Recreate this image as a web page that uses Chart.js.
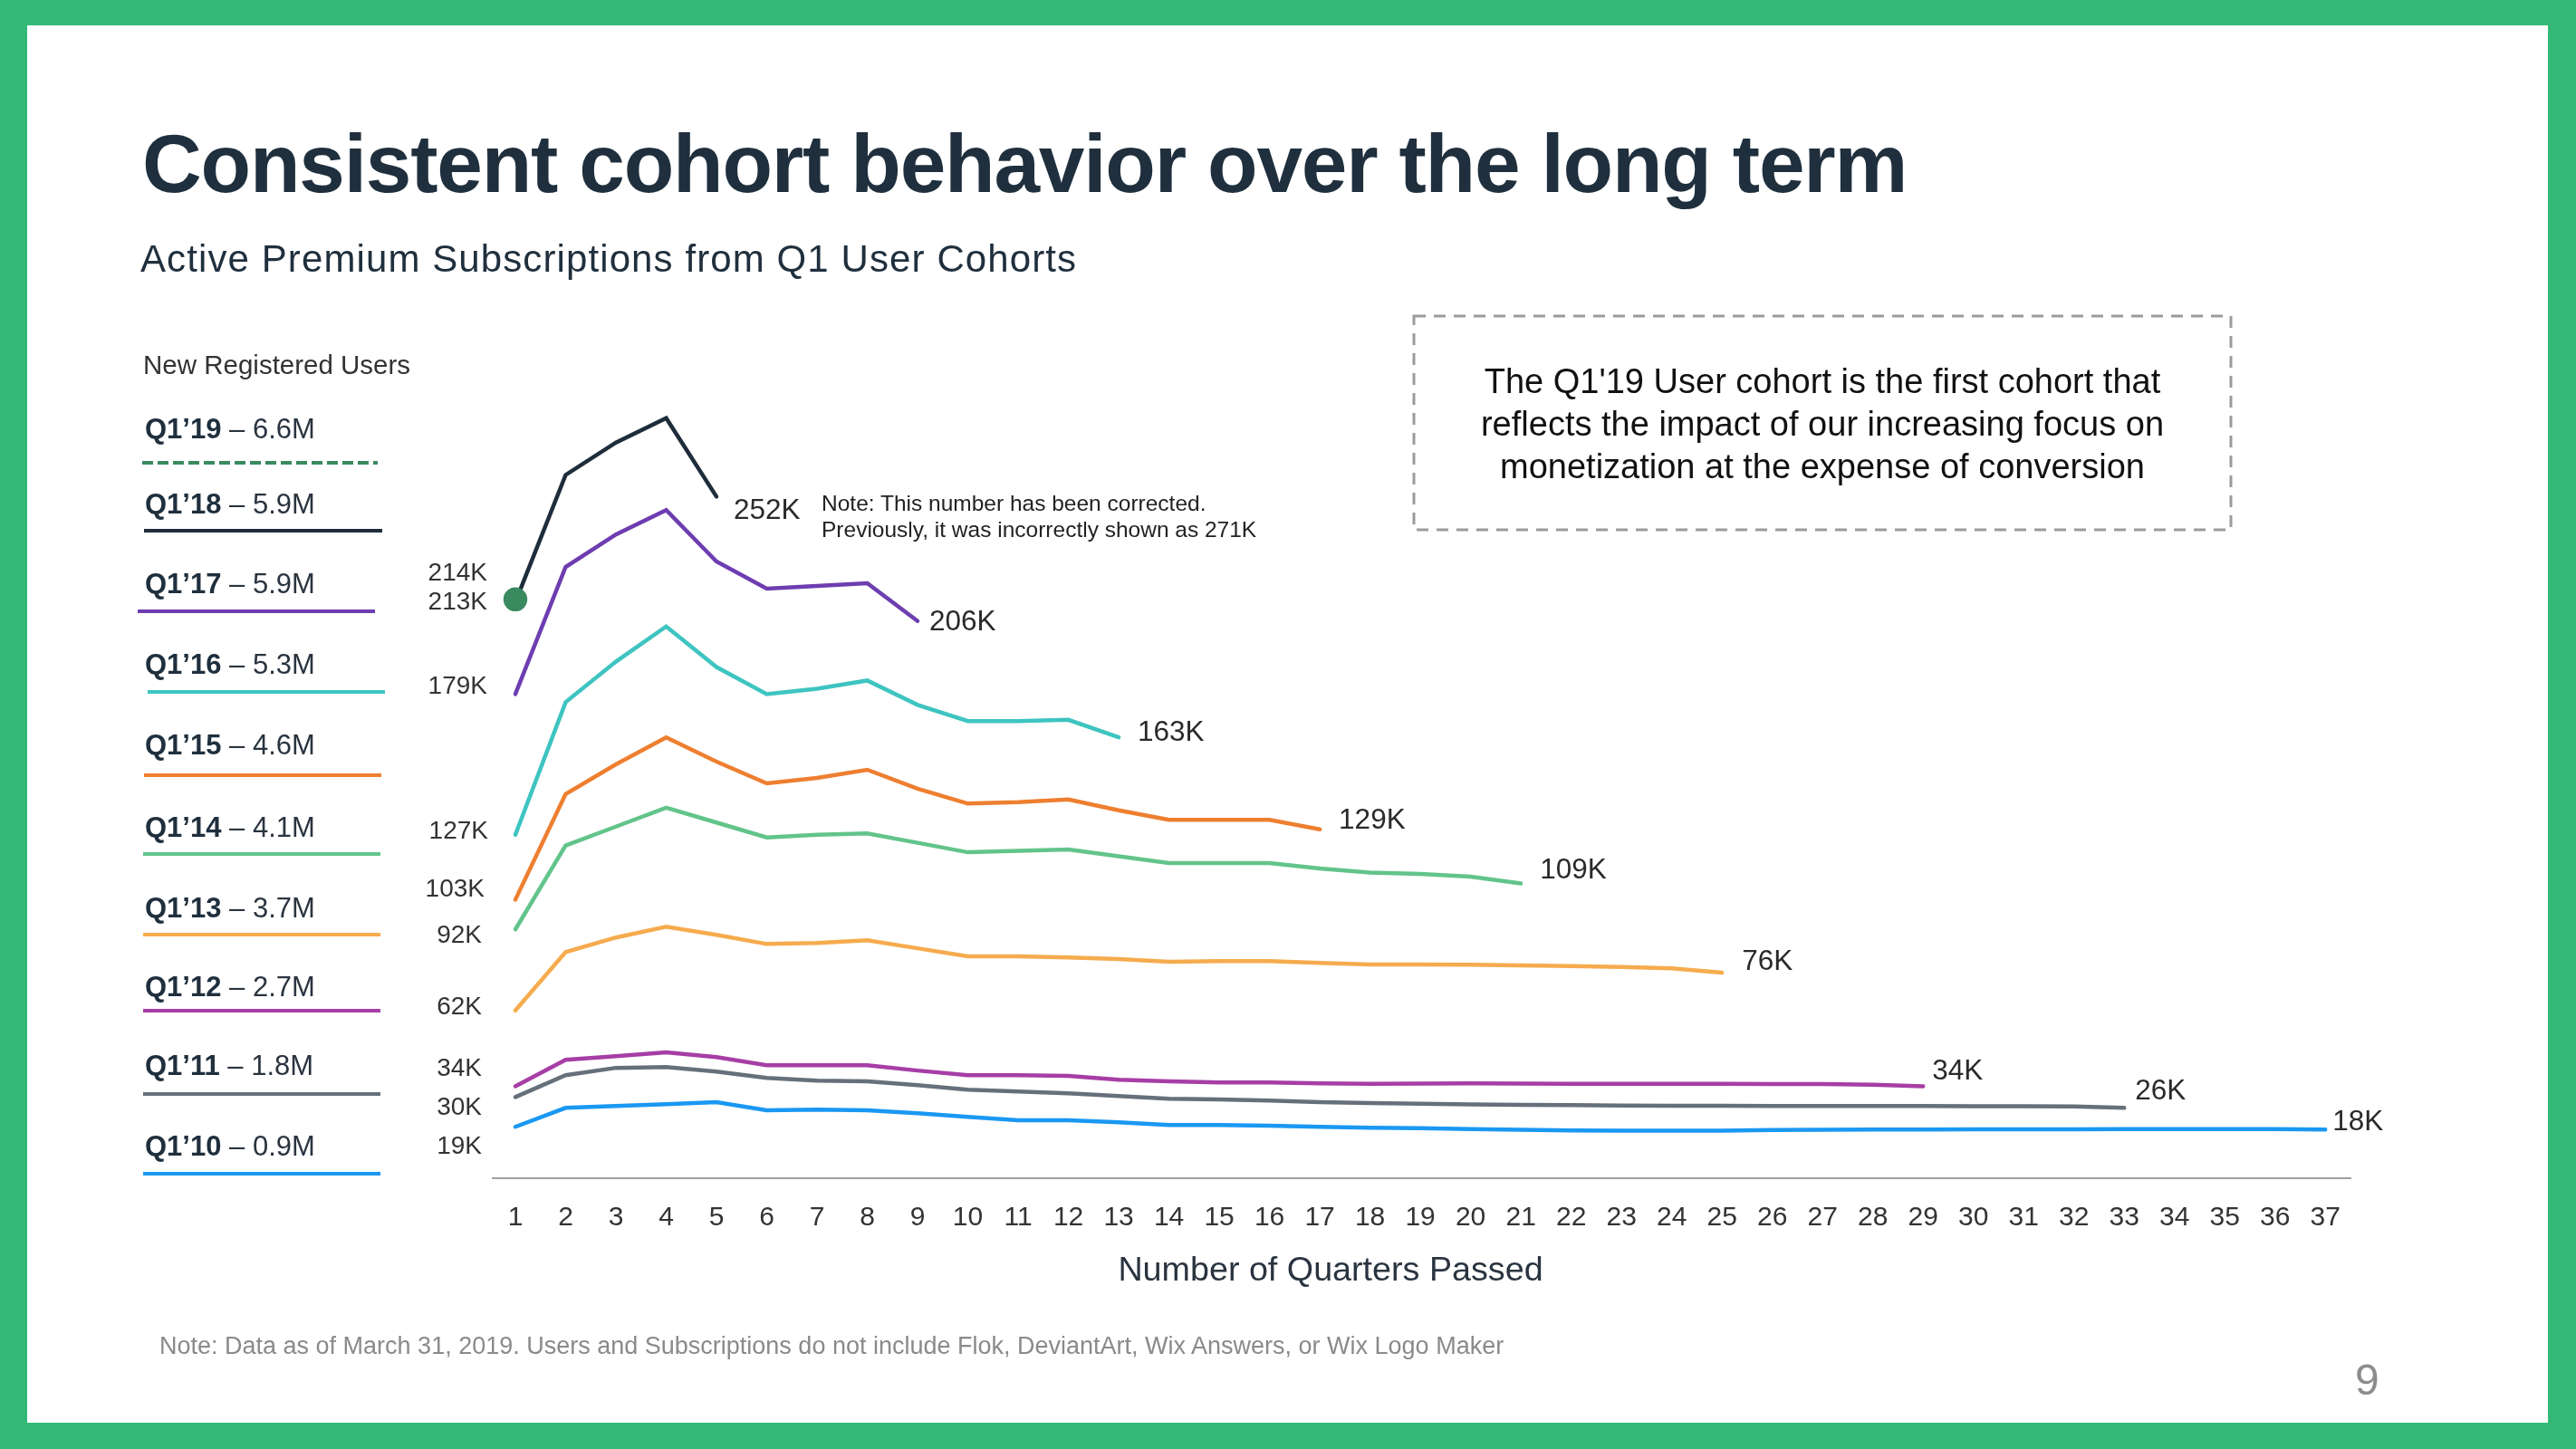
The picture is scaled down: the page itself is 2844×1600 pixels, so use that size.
<!DOCTYPE html>
<html>
<head>
<meta charset="utf-8">
<script src="https://cdn.jsdelivr.net/npm/chart.js@4.4.1/dist/chart.umd.min.js"></script>
<style>
  html, body { margin: 0; padding: 0; }
  body {
    width: 2844px; height: 1600px; position: relative; overflow: hidden;
    background: #33b876;
    font-family: "Liberation Sans", Arial, sans-serif;
  }
  #slide { position: absolute; left: 30px; top: 28px; width: 2783px; height: 1543px; background: #fff; }
  #chart { position: absolute; left: 0; top: 0; }
  .abs { position: absolute; white-space: nowrap; }
  #title { left: 157px; top: 135px; font-size: 91px; line-height: 91px; font-weight: bold; color: #1f2f3d; letter-spacing: -1.2px; }
  #subtitle { left: 155px; top: 265px; font-size: 42px; line-height: 42px; color: #1f2f3d; letter-spacing: 1.1px; }
  #legendHead { left: 158px; top: 388px; font-size: 29.5px; line-height: 29.5px; color: #333; }
  .legText { font-size: 31px; line-height: 31px; color: #2a3440; }
  .legText b { color: #1f2f3d; }
  .legLine { position: absolute; height: 4px; }
  .note { left: 907px; font-size: 24.5px; line-height: 24.5px; color: #222; }
  #callout { left: 1561px; top: 398px; width: 902px; text-align: center; font-size: 38px; line-height: 47px; color: #111; }
  #xTitle { left: 1469px; top: 1383px; transform: translateX(-50%); font-size: 37.7px; line-height: 37.7px; color: #2a3440; }
  #footer { left: 176px; top: 1473px; font-size: 27px; line-height: 27px; color: #8a8a8a; }
  #pageNo { left: 2600px; top: 1500px; font-size: 48px; line-height: 48px; color: #8c8c8c; }
</style>
</head>
<body>
<div id="slide"></div>
<canvas id="chart" width="2844" height="1600"></canvas>

<div class="abs" id="title">Consistent cohort behavior over the long term</div>
<div class="abs" id="subtitle">Active Premium Subscriptions from Q1 User Cohorts</div>
<div class="abs" id="legendHead">New Registered Users</div>
<div id="legend"></div>

<div class="abs note" style="top:544px">Note: This number has been corrected.</div>
<div class="abs note" style="top:573px">Previously, it was incorrectly shown as 271K</div>

<svg class="abs" style="left:0;top:0" width="2844" height="700">
  <rect x="1561" y="349" width="902" height="236" fill="none" stroke="#9b9b9b" stroke-width="3" stroke-dasharray="13 9"/>
</svg>
<div class="abs" id="callout">The Q1'19 User cohort is the first cohort that<br>reflects the impact of our increasing focus on<br>monetization at the expense of conversion</div>

<div class="abs" id="xTitle">Number of Quarters Passed</div>
<div class="abs" id="footer">Note: Data as of March 31, 2019. Users and Subscriptions do not include Flok, DeviantArt, Wix Answers, or Wix Logo Maker</div>
<div class="abs" id="pageNo">9</div>

<script>
// quarters passed (x axis)
const quarters = [1, 2, 3, 4, 5, 6, 7, 8, 9, 10, 11, 12, 13, 14, 15, 16, 17, 18, 19,
                  20, 21, 22, 23, 24, 25, 26, 27, 28, 29, 30, 31, 32, 33, 34, 35, 36, 37];

const cohorts = ['Q1’19', 'Q1’18', 'Q1’17', 'Q1’16', 'Q1’15', 'Q1’14', 'Q1’13', 'Q1’12', 'Q1’11', 'Q1’10'];
const newUsers = ['6.6M', '5.9M', '5.9M', '5.3M', '4.6M', '4.1M', '3.7M', '2.7M', '1.8M', '0.9M'];
const startLabels = ['214K', '213K', '179K', '127K', '103K', '92K', '62K', '34K', '30K', '19K'];
const endLabels = ['', '252K', '206K', '163K', '129K', '109K', '76K', '34K', '26K', '18K'];

// active premium subscriptions, thousands
const q119 = [214];
const q118 = [213, 260, 272, 281, 252];
const q117 = [179, 226, 238, 247, 228, 218, 219, 220, 206];
const q116 = [127, 176, 191, 204, 189, 179, 181, 184, 175, 169, 169, 169.5, 163];
const q115 = [103, 142, 153, 163, 154, 146, 148, 151, 144, 138.5, 139, 140, 136, 132.5, 132.5, 132.5, 129];
const q114 = [92, 123, 130, 137, 131.5, 126, 127, 127.5, 124, 120.5, 121, 121.5, 119, 116.5, 116.5, 116.5, 114.5,
              113, 112.5, 111.5, 109];
const q113 = [62, 83.6, 89, 93, 90, 86.6, 87, 88, 85, 82, 82, 81.6, 81, 80, 80.3, 80.3, 79.6, 79, 79, 78.9, 78.7,
              78.4, 78.1, 77.6, 76];
const q112 = [34, 43.8, 45.1, 46.5, 44.8, 41.8, 41.8, 41.8, 39.8, 38.1, 38.1, 37.8, 36.4, 35.8, 35.4, 35.4, 35.1,
              34.9, 35, 35.1, 35, 34.9, 34.9, 34.9, 34.9, 34.8, 34.8, 34.6, 34];
const q111 = [30, 38.1, 40.8, 41.1, 39.4, 37.1, 36.1, 35.8, 34.4, 32.7, 32.1, 31.4, 30.4, 29.4, 29.1, 28.7, 28.1,
              27.8, 27.5, 27.3, 27.1, 27, 26.9, 26.8, 26.8, 26.7, 26.7, 26.7, 26.7, 26.6, 26.6, 26.5, 26];
const q110 = [19, 26, 26.7, 27.4, 28.1, 25.1, 25.4, 25.1, 24, 22.7, 21.4, 21.4, 20.7, 19.7, 19.7, 19.4, 19, 18.7,
              18.5, 18.2, 17.9, 17.7, 17.6, 17.6, 17.6, 17.8, 17.9, 18, 18, 18.1, 18.1, 18.1, 18.2, 18.2, 18.2, 18.2, 18];

const series = [q119, q118, q117, q116, q115, q114, q113, q112, q111, q110];
const colors = ['#3a8a60', '#1f2d3b', '#6e3db0', '#3ec4c1', '#ee7f30', '#62c48a', '#f6ab4e', '#a63ea6', '#65707a', '#1a98f2'];

// label nudges (px) relative to first / last point
const startNudge = [[-31, -29], [-31, 0], [-31, -8], [-30, -3], [-34, -11], [-37, 7], [-37, -4], [-37, -19], [-37, 12], [-37, 22]];
const endNudge = [[0, 0], [19, 16], [13, 2], [21, -5], [21, -9], [21, -14], [22, -12], [10, -16], [12, -18], [8, -8]];

// legend rows, page coordinates
const legTextY = [473, 556, 644, 733, 822, 913, 1002, 1089, 1176, 1265];
const legLineY = [511, 586, 675, 764, 856, 943, 1032, 1116, 1208, 1296];
const legLineX = [[157, 417], [159, 422], [152, 414], [163, 425], [159, 421], [158, 420], [158, 420], [158, 420], [158, 420], [158, 420]];

const legend = document.getElementById('legend');
cohorts.forEach((c, i) => {
    const t = document.createElement('div');
    t.className = 'abs legText';
    t.style.left = '160px';
    t.style.top = (legTextY[i] - 15) + 'px';
    t.innerHTML = '<b>' + c + '</b> – ' + newUsers[i];
    legend.appendChild(t);

    const l = document.createElement('div');
    l.className = 'legLine';
    l.style.left = legLineX[i][0] + 'px';
    l.style.width = (legLineX[i][1] - legLineX[i][0]) + 'px';
    l.style.top = (legLineY[i] - 2) + 'px';
    if (i === 0) {
        l.style.background = 'repeating-linear-gradient(90deg, ' + colors[0] + ' 0 12px, transparent 12px 17px)';
    } else {
        l.style.background = colors[i];
    }
    legend.appendChild(l);
});

const cohortLabels = {
    id: 'cohortLabels',
    afterDatasetsDraw(chart) {
        const ctx = chart.ctx;
        ctx.save();
        ctx.textBaseline = 'middle';
        chart.data.datasets.forEach((ds, i) => {
            const pts = chart.getDatasetMeta(i).data;
            const first = pts[0];
            const last = pts[pts.length - 1];
            ctx.fillStyle = '#333';
            ctx.font = '28px "Liberation Sans", Arial, sans-serif';
            ctx.textAlign = 'right';
            ctx.fillText(startLabels[i], first.x + startNudge[i][0], first.y + startNudge[i][1]);
            if (endLabels[i]) {
                ctx.fillStyle = '#2a2a2a';
                ctx.font = '31.5px "Liberation Sans", Arial, sans-serif';
                ctx.textAlign = 'left';
                ctx.fillText(endLabels[i], last.x + endNudge[i][0], last.y + endNudge[i][1]);
            }
        });
        ctx.restore();
    }
};

new Chart(document.getElementById('chart'), {
    type: 'line',
    data: {
        datasets: series.map((s, i) => ({
            label: cohorts[i],
            data: s.map((v, k) => ({ x: quarters[k], y: v })),
            borderColor: colors[i],
            backgroundColor: colors[i],
            borderWidth: 4.5,
            borderCapStyle: 'round',
            borderJoinStyle: 'miter',
            tension: 0,
            pointRadius: i === 0 ? 11 : 0,
            pointHoverRadius: 0,
            fill: false
        }))
    },
    options: {
        responsive: false,
        animation: false,
        events: [],
        layout: { padding: { left: 544, right: 249, top: 405, bottom: 159 } },
        plugins: { legend: { display: false }, tooltip: { enabled: false } },
        scales: {
            x: {
                type: 'linear',
                min: 0.55,
                max: 37.5,
                afterBuildTicks: s => { s.ticks = quarters.map(q => ({ value: q })); },
                afterFit: s => { s.height = 140; },
                grid: { display: false, drawTicks: false },
                border: { display: true, color: '#a0a0a0', width: 2 },
                ticks: {
                    autoSkip: false,
                    maxRotation: 0,
                    padding: 26,
                    color: '#333',
                    font: { family: '"Liberation Sans", Arial, sans-serif', size: 30 }
                }
            },
            y: { display: false, min: 0, max: 300 }
        }
    },
    plugins: [cohortLabels]
});
</script>
</body>
</html>
